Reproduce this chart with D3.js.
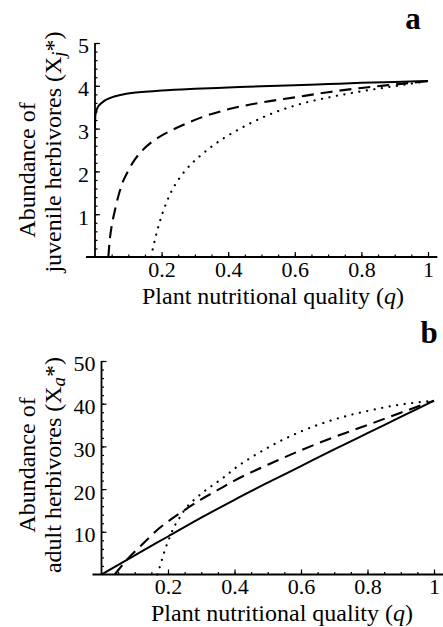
<!DOCTYPE html>
<html>
<head>
<meta charset="utf-8">
<script src="https://cdn.jsdelivr.net/npm/d3@7"></script>
<style>
  body { margin: 0; background: white; }
  svg { display: block; }
  text { font-family: 'Liberation Serif', 'Times New Roman', serif; fill: black; }
</style>
</head>
<body>
<svg id="chart" width="443" height="627"></svg>
<script>
// panel a : juvenile herbivores
var qSolidA = [0, 0.001, 0.005, 0.01, 0.02, 0.03, 0.05, 0.08, 0.11, 0.15, 0.2, 0.3, 0.4, 0.5, 0.6, 0.7, 0.8, 0.9, 1.0];
var xjSolid = [3.0, 3.3, 3.44, 3.52, 3.6, 3.66, 3.73, 3.79, 3.83, 3.86, 3.89, 3.93, 3.96, 3.99, 4.01, 4.04, 4.07, 4.09, 4.11];
var qDashA = [0.04, 0.045, 0.05, 0.06, 0.07, 0.08, 0.1, 0.12, 0.15, 0.19, 0.235, 0.28, 0.33, 0.4, 0.5, 0.6, 0.7, 0.8, 0.9, 1.0];
var xjDash = [0, 0.45, 0.72, 1.1, 1.42, 1.68, 2.02, 2.28, 2.55, 2.79, 2.98, 3.14, 3.29, 3.45, 3.61, 3.73, 3.85, 3.95, 4.03, 4.11];
var qDotA = [0.168, 0.175, 0.185, 0.2, 0.215, 0.23, 0.25, 0.27, 0.295, 0.32, 0.35, 0.385, 0.42, 0.46, 0.515, 0.565, 0.615, 0.715, 0.815, 0.915, 1.0];
var xjDot = [0, 0.24, 0.56, 0.96, 1.28, 1.54, 1.8, 2.01, 2.22, 2.39, 2.58, 2.77, 2.93, 3.1, 3.3, 3.45, 3.57, 3.75, 3.89, 4.01, 4.11];

// panel b : adult herbivores
var qSolidB = [0, 0.1, 0.2, 0.3, 0.4, 0.5, 0.6, 0.7, 0.8, 0.9, 1.0];
var xaSolid = [0, 4.5, 8.9, 13.3, 17.5, 21.5, 25.4, 29.3, 33.1, 36.9, 40.7];
var qDashB = [0.04, 0.05, 0.07, 0.09, 0.11, 0.14, 0.17, 0.2, 0.25, 0.3, 0.35, 0.4, 0.5, 0.6, 0.7, 0.8, 0.9, 1.0];
var xaDash = [0, 1.0, 2.9, 4.6, 6.1, 8.4, 10.6, 12.4, 15.1, 17.6, 19.8, 22.0, 25.7, 29.1, 32.2, 35.0, 37.9, 40.7];
var qDotB = [0.168, 0.175, 0.186, 0.196, 0.206, 0.216, 0.231, 0.246, 0.261, 0.286, 0.311, 0.336, 0.37, 0.4, 0.45, 0.5, 0.6, 0.7, 0.8, 0.9, 1.0];
var xaDot = [0, 1.7, 4.6, 6.9, 8.9, 10.8, 12.8, 14.7, 16.2, 18.0, 19.6, 21.0, 22.9, 24.8, 27.4, 29.7, 33.5, 36.3, 38.3, 39.8, 40.7];

var xTicks = [0.2, 0.4, 0.6, 0.8, 1];
var yTicksA = [1, 2, 3, 4, 5];
var yTicksB = [10, 20, 30, 40, 50];

var svg = d3.select('#chart');

function zip(qs, vs) {
    return qs.map(function(q, i){ return [q, vs[i]]; });
}

function panel(opt) {
    var x = d3.scaleLinear().domain([0, 1]).range(opt.xRange),
        y = d3.scaleLinear().domain([0, opt.yMax]).range(opt.yRange),
        g = svg.append('g');

    // minor ticks
    g.append('g')
        .attr('transform', 'translate(0,' + y(0) + ')')
        .call(d3.axisBottom(x).tickValues(d3.range(1, 21).map(function(i){ return i * 0.05; }))
            .tickSize(-2.5).tickFormat(''))
        .call(function(s){ s.select('.domain').remove(); });
    g.append('g')
        .attr('transform', 'translate(' + x(0) + ',0)')
        .call(d3.axisLeft(y).tickValues(d3.range(1, 26).map(function(i){ return i * opt.yMax / 25; }))
            .tickSize(-2.5).tickFormat(''))
        .call(function(s){ s.select('.domain').remove(); });

    // major ticks + labels
    var xa = g.append('g')
        .attr('transform', 'translate(0,' + y(0) + ')')
        .call(d3.axisBottom(x).tickValues(xTicks).tickSize(-5).tickPadding(4)
            .tickFormat(function(d){ return d === 1 ? '1' : d.toFixed(1); }));
    xa.select('.domain').remove();
    xa.selectAll('text').attr('font-size', 22).attr('dy', '0.72em');

    var ya = g.append('g')
        .attr('transform', 'translate(' + x(0) + ',0)')
        .call(d3.axisLeft(y).tickValues(opt.yTicks).tickSize(-5).tickPadding(6)
            .tickFormat(d3.format('d')));
    ya.select('.domain').remove();
    ya.selectAll('text').attr('font-size', 22).attr('dy', '0.45em');

    g.selectAll('.tick line').attr('stroke', 'black').attr('stroke-width', 1.2);

    // axis lines
    g.append('line')
        .attr('x1', x(-0.027)).attr('x2', x(1.028))
        .attr('y1', y(0)).attr('y2', y(0))
        .attr('stroke', 'black').attr('stroke-width', 1.8);
    g.append('line')
        .attr('x1', x(0)).attr('x2', x(0))
        .attr('y1', y(0)).attr('y2', y(opt.yMax))
        .attr('stroke', 'black').attr('stroke-width', 1.8);

    // curves
    var line = d3.line()
        .x(function(d){ return x(d[0]); })
        .y(function(d){ return y(d[1]); })
        .curve(d3.curveMonotoneX);

    g.append('path').datum(opt.solid)
        .attr('d', line).attr('fill', 'none')
        .attr('stroke', 'black').attr('stroke-width', 2);
    g.append('path').datum(opt.dash)
        .attr('d', line).attr('fill', 'none')
        .attr('stroke', 'black').attr('stroke-width', 2.1)
        .attr('stroke-dasharray', '12,7');
    g.append('path').datum(opt.dot)
        .attr('d', line).attr('fill', 'none')
        .attr('stroke', 'black').attr('stroke-width', 2.2)
        .attr('stroke-linecap', 'round')
        .attr('stroke-dasharray', '0.1,7.5');

    // x title
    g.append('text')
        .attr('x', opt.xTitle[0]).attr('y', opt.xTitle[1])
        .attr('text-anchor', 'middle').attr('font-size', 24)
        .html('Plant nutritional quality (<tspan font-style="italic">q</tspan>)');

    // y title, two rotated lines
    opt.yTitle.forEach(function(t){
        g.append('text')
            .attr('transform', 'translate(' + t.x + ',' + t.y + ') rotate(-90)')
            .attr('text-anchor', 'middle').attr('font-size', 24)
            .html(t.html);
    });

    // panel letter
    g.append('text')
        .attr('x', opt.letter[0]).attr('y', opt.letter[1])
        .attr('text-anchor', 'middle').attr('font-size', 31)
        .attr('font-weight', 'bold')
        .text(opt.letter[2]);
}

panel({
    xRange: [95, 428], yRange: [257, 43], yMax: 5, yTicks: yTicksA,
    solid: zip(qSolidA, xjSolid), dash: zip(qDashA, xjDash), dot: zip(qDotA, xjDot),
    xTitle: [273, 304],
    yTitle: [
        {x: 35, y: 170, html: 'Abundance of'},
        {x: 61, y: 152, html: 'juvenile herbivores (X<tspan font-style="italic" font-size="19" dy="4">j</tspan><tspan dy="-4">*)</tspan>'}
    ],
    letter: [413, 29, 'a']
});

panel({
    xRange: [101.5, 434], yRange: [574.5, 361], yMax: 50, yTicks: yTicksB,
    solid: zip(qSolidB, xaSolid), dash: zip(qDashB, xaDash), dot: zip(qDotB, xaDot),
    xTitle: [282, 621],
    yTitle: [
        {x: 35, y: 465, html: 'Abundance of'},
        {x: 61, y: 465, html: 'adult herbivores (X<tspan font-style="italic" font-size="19" dy="4">a</tspan><tspan dy="-4">*)</tspan>'}
    ],
    letter: [429, 343, 'b']
});
</script>
</body>
</html>
